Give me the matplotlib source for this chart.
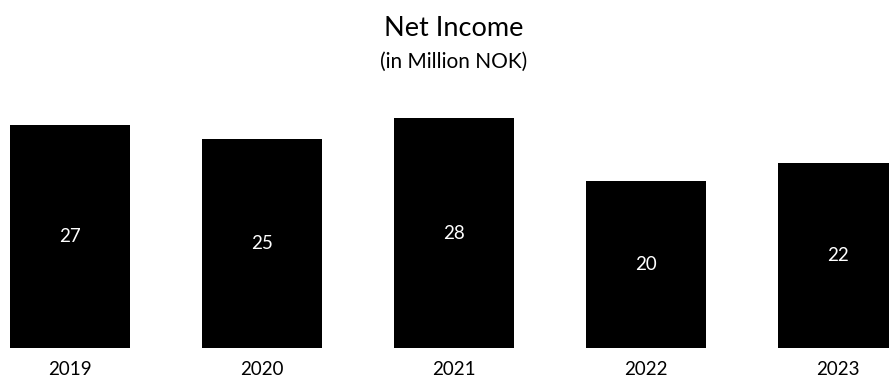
import matplotlib
matplotlib.use("Agg")
import matplotlib.pyplot as plt

years = ["2019", "2020", "2021", "2022", "2023"]
net_income = [27.0, 25.3, 27.8, 20.2, 22.4]
value_labels = ["27", "25", "28", "20", "22"]

plt.rcParams['font.family'] = ['Lato', 'DejaVu Sans']

W, H = 889, 383
fig = plt.figure(figsize=(W / 100, H / 100), dpi=100)
fig.patch.set_facecolor("white")

# axes: bottom at y=348 px, top at y=100 px
ax = fig.add_axes([0, (H - 348) / H, 1, 248 / H])
x = list(range(len(years)))
ax.bar(x, net_income, width=0.625, color="black")
ax.set_xlim(-70 / 192, (W - 70) / 192)
ax.set_ylim(0, 30)
ax.axis("off")

for xi, v, lab in zip(x, net_income, value_labels):
    ax.text(xi, v / 2, lab, ha="center", va="center", color="white", fontsize=13.5)
    ax.text(xi, -2.55, years[xi], ha="center", va="center",
            color="black", fontsize=13.5, clip_on=False)

cx = 454 / W
fig.text(cx, 1 - 36 / H, "Net Income", ha="center", va="baseline", fontsize=19.5)
fig.text(cx, 1 - 68 / H, "(in Million NOK)", ha="center", va="baseline", fontsize=15)

fig.savefig("out.png", dpi=100, facecolor="white")
